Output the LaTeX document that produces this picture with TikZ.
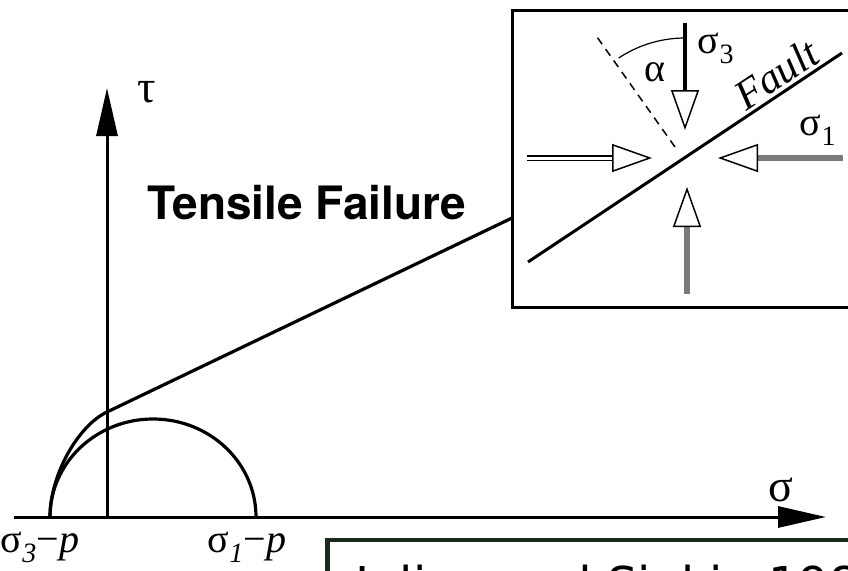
\documentclass[tikz,border=0pt]{standalone}
\usepackage{fontspec}
\setmainfont{Liberation Serif}
\newfontfamily\headfont{TeX Gyre Heros}
\newfontfamily\citefont{DejaVu Sans}
\usepackage{xcolor}
\usetikzlibrary{positioning, arrows.meta}
\definecolor{citeframe}{HTML}{1A2B1A}
\definecolor{shaftgray}{HTML}{7A7A7A}

\begin{document}
\begin{tikzpicture}[
  x=1pt, y=-1pt,
  curve/.style={line width=3.2pt},
  axis/.style={line width=3pt, -{Triangle[length=48pt, width=21pt]}},
  stress/.style={line width=3.5pt,
                 -{Triangle[length=40pt, width=28pt, fill=white, color=black, line width=1.5pt]}},
  greek/.style={font=\fontsize{46}{50}\selectfont, inner sep=0pt},
  small/.style={font=\fontsize{40}{44}\selectfont, inner sep=0pt},
  citebox/.style={draw=citeframe, line width=4.5pt, anchor=north west,
                  inner xsep=28pt, inner ysep=25pt,
                  font=\citefont\fontsize{48}{54}\selectfont}
]
\useasboundingbox (0,0) rectangle (848,570);
\clip (0,0) rectangle (848,570);

\coordinate (sigStart) at (14,517);
\coordinate (sigEnd) at (826,517);
\coordinate (O) at (107,517);
\coordinate (tauEnd) at (107,88);
\coordinate (tauCross) at (107,412);
\coordinate (foot) at (50,517);
\coordinate (touch) at (512,218);

\draw[axis] (sigStart) -- (sigEnd);
\draw[axis] (O) -- (tauEnd);
\node[greek] (tau) at (147,92) {τ};
\node[greek] (sig) at (781,490) {σ};

\draw[curve] (foot) arc[start angle=180, end angle=360, x radius=103, y radius=98];
\draw[curve] (foot) .. controls (50,474) and (79,425) .. (tauCross) -- (touch);

\node[font=\headfont\bfseries\fontsize{46}{50}\selectfont, inner sep=0pt] (tensile) at (307,203) {Tensile Failure};

\node[small] (s3p) at (40,547) {σ\textsubscript{\textit{3}}−\textit{p}};
\node[small] (s1p) at (247,547) {σ\textsubscript{\textit{1}}−\textit{p}};

\draw[line width=3pt, fill=white] (512,10) rectangle (870,307);

\coordinate (C) at (685,158);
\draw[line width=3pt] (528,262) -- (842,53);
\node[inner sep=0pt, font=\itshape\fontsize{42}{46}\selectfont, rotate=33.6] (fault) at (776,74) {Fault};
\draw[line width=1.5pt, dash pattern=on 8pt off 6pt] (675,147) -- (597,37);
\draw[line width=1.2pt] (685,38) arc[start angle=270, end angle=236.4, radius=120];
\node[small] (alpha) at (655,72) {α};

\draw[stress] (685,23) -- (685,130);
\draw[stress, shaftgray, line width=6pt] (843,158) -- (718,158);
\draw[stress, shaftgray, line width=6pt] (687,294) -- (687,187);
\draw[stress, line width=1.2pt, double=white, double distance=3pt] (527,158) -- (652,158);
\node[small] (s3) at (716,48) {σ\textsubscript{3}};
\node[small] (s1) at (818,130) {σ\textsubscript{1}};

\node[citebox] (cite) at (325,537.5) {Julian and Sipkin 1985};
\end{tikzpicture}
\end{document}
